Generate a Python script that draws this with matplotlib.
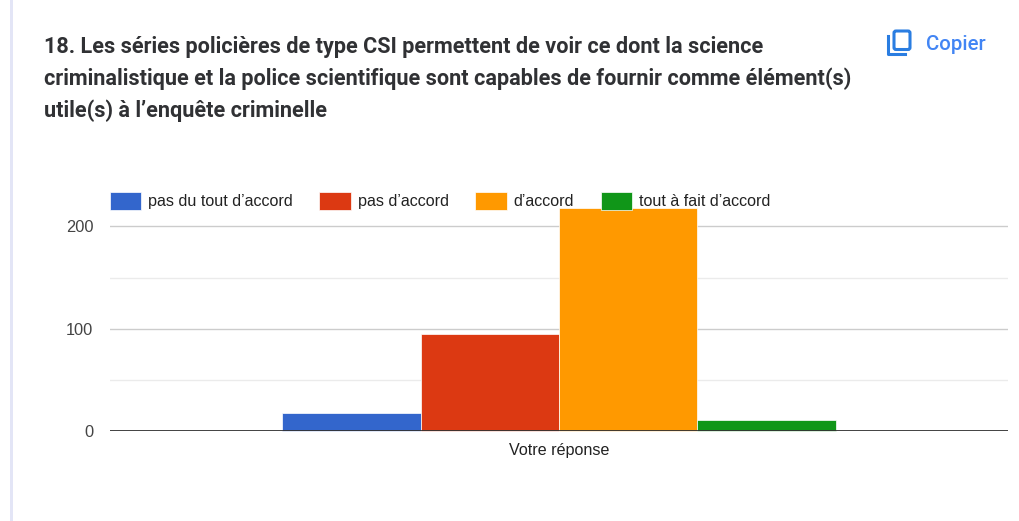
import matplotlib.pyplot as plt
from matplotlib.patches import Rectangle, FancyBboxPatch
from matplotlib.lines import Line2D
import numpy as np

W, H = 1019, 521

labels = ['pas du tout d’accord', 'pas d’accord', 'd’accord', 'tout à fait d’accord']
values = [18, 95, 218, 11]
colors = ['#3366cc', '#dc3912', '#ff9900', '#109618']
category = 'Votre réponse'
major_ticks = [0, 100, 200]
minor_ticks = [50, 150]
title_lines = [
    '18. Les séries policières de type CSI permettent de voir ce dont la science',
    'criminalistique et la police scientifique sont capables de fournir comme élément(s)',
    'utile(s) à l’enquête criminelle',
]

fig = plt.figure(figsize=(W / 100, H / 100), dpi=100, facecolor='white')
ax = fig.add_axes([110 / W, 1 - 431 / H, 898 / W, 224 / H])

# bars sit side by side, a thin white edge separates them
width = 0.1542
x = np.arange(len(values)) * width - 1.5 * width
bars = []
for xi, v, c, lab in zip(x, values, colors, labels):
    bars.append(ax.bar(xi, v, width, color=c, edgecolor='white', linewidth=0.5,
                       label=lab, zorder=3, clip_on=False))

ax.set_xlim(-0.5, 0.5)
ax.set_ylim(0, 219)
ax.set_yticks(major_ticks)
ax.set_xticks([0], [category])
ax.tick_params(length=0, labelcolor='#444444')
ax.tick_params(axis='y', labelsize=11.8, pad=12)
ax.tick_params(axis='x', labelsize=11.6, pad=9, labelcolor='#222222')
for lab in ax.get_xticklabels() + ax.get_yticklabels():
    lab.set_family('Liberation Sans')

for y in major_ticks[1:]:
    ax.axhline(y, color='#cccccc', linewidth=1, zorder=1)
for y in minor_ticks:
    ax.axhline(y, color='#ebebeb', linewidth=1, zorder=1)
for s in ax.spines.values():
    s.set_visible(False)
ax.axhline(0, color='#333333', linewidth=1.3, zorder=4)

leg = ax.legend(loc='lower left', bbox_to_anchor=(109.5 / W, 1 - 209.5 / H),
                bbox_transform=fig.transFigure, ncol=4, frameon=False,
                borderaxespad=0, borderpad=0, handlelength=1.95, handleheight=1.3,
                handletextpad=0.42, columnspacing=1.65,
                prop={'family': 'Liberation Sans', 'size': 11.65}, labelcolor='#222222')
leg.set_zorder(6)

# title, button and the stripe on the left, all placed in pixels
for i, line in enumerate(title_lines):
    fig.text(44 / W, 1 - (47 + i * 32) / H, line, family='Roboto', weight='bold',
             fontsize=15.55, color='#303134', va='center', ha='left')

fig.text(926 / W, 1 - 44.5 / H, 'Copier', family='Roboto', weight='medium',
         fontsize=14.7, color='#4285f4', va='center', ha='left')

px = fig.add_axes([0, 0, 1, 1], facecolor='none')
px.set_xlim(0, W)
px.set_ylim(H, 0)
px.axis('off')
px.add_patch(Rectangle((10, 0), 3.5, H, color='#e3e5f6', lw=0))
px.add_patch(FancyBboxPatch((894, 31), 16, 18.5, boxstyle='round,pad=0,rounding_size=2',
                            fill=False, edgecolor='#2a7de1', lw=2.2))
px.add_line(Line2D([888.5, 888.5, 905], [36, 54, 54], color='#2a7de1', lw=2.2))

fig.savefig('out.png', dpi=100)
